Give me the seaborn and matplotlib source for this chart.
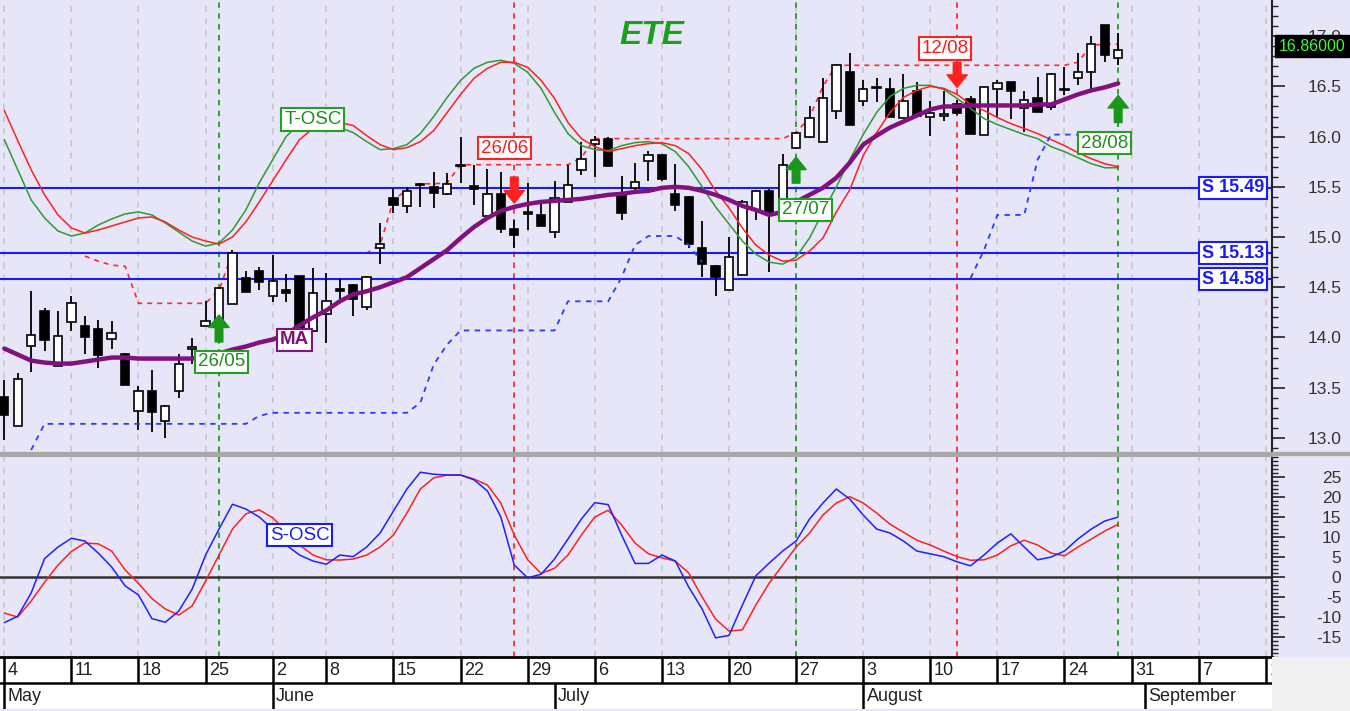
import numpy as np
import seaborn as sns
import matplotlib.pyplot as plt
from matplotlib.patches import Rectangle
from matplotlib.lines import Line2D
from matplotlib.ticker import MultipleLocator

# --- daily candles (trading days from 4 May to 28 Aug) ---
opens = [13.41, 13.12, 13.92, 14.26, 13.72, 14.15, 14.11, 14.08, 13.98, 13.84,
         13.27, 13.47, 13.17, 13.47, 13.89, 14.11, 14.14, 14.33, 14.59, 14.66,
         14.41, 14.47, 14.61, 14.06, 14.23, 14.48, 14.52, 14.30, 14.89, 15.39,
         15.31, 15.52, 15.50, 15.43, 15.71, 15.51, 15.21, 15.43, 15.08, 15.25,
         15.22, 15.05, 15.35, 15.67, 15.93, 15.98, 15.44, 15.49, 15.76, 15.82,
         15.43, 15.40, 14.89, 14.71, 14.47, 14.62, 15.27, 15.46, 15.33, 15.89,
         16.00, 15.95, 16.25, 16.64, 16.35, 16.48, 16.47, 16.19, 16.45, 16.20,
         16.21, 16.32, 16.37, 16.02, 16.47, 16.54, 16.28, 16.38, 16.29, 16.46,
         16.58, 16.64, 17.11, 16.78]
highs = [13.58, 13.65, 14.46, 14.29, 14.26, 14.41, 14.21, 14.17, 14.16, 13.85,
         13.52, 13.68, 13.33, 13.84, 13.99, 14.36, 14.50, 14.87, 14.66, 14.70,
         14.82, 14.63, 14.61, 14.69, 14.64, 14.58, 14.53, 14.61, 15.14, 15.49,
         15.50, 15.54, 15.65, 15.64, 16.00, 15.72, 15.68, 15.65, 15.17, 15.54,
         15.37, 15.56, 15.72, 15.95, 16.01, 16.00, 15.61, 15.74, 15.86, 15.83,
         15.73, 15.41, 15.16, 14.72, 15.00, 15.37, 15.47, 15.48, 15.83, 16.05,
         16.30, 16.58, 16.72, 16.83, 16.56, 16.58, 16.58, 16.62, 16.54, 16.35,
         16.45, 16.36, 16.40, 16.49, 16.56, 16.54, 16.45, 16.59, 16.63, 16.69,
         16.83, 17.00, 17.11, 17.03]
lows = [12.98, 13.12, 13.66, 13.87, 13.72, 14.06, 13.84, 13.70, 13.89, 13.53,
        13.08, 13.06, 13.00, 13.40, 13.74, 14.11, 14.14, 14.33, 14.45, 14.47,
        14.35, 14.35, 14.08, 14.05, 13.95, 14.35, 14.21, 14.27, 14.73, 15.24,
        15.24, 15.30, 15.29, 15.42, 15.54, 15.32, 15.21, 15.04, 14.89, 15.07,
        15.11, 14.99, 15.35, 15.62, 15.60, 15.71, 15.17, 15.43, 15.56, 15.56,
        15.26, 14.89, 14.60, 14.41, 14.47, 14.62, 15.17, 14.65, 15.25, 15.88,
        15.99, 15.95, 16.18, 16.12, 16.30, 16.34, 16.20, 16.19, 16.21, 16.01,
        16.16, 16.22, 16.03, 16.02, 16.20, 16.18, 16.05, 16.24, 16.26, 16.41,
        16.51, 16.45, 16.74, 16.71]
closes = [13.23, 13.59, 14.02, 13.97, 14.01, 14.34, 14.00, 13.83, 14.04, 13.53,
          13.47, 13.26, 13.32, 13.74, 13.90, 14.16, 14.49, 14.84, 14.45, 14.55,
          14.56, 14.44, 14.09, 14.44, 14.36, 14.46, 14.38, 14.60, 14.93, 15.32,
          15.46, 15.53, 15.44, 15.53, 15.72, 15.48, 15.43, 15.08, 15.02, 15.23,
          15.11, 15.39, 15.52, 15.78, 15.97, 15.71, 15.24, 15.55, 15.82, 15.58,
          15.32, 14.93, 14.73, 14.60, 14.80, 15.35, 15.46, 15.23, 15.72, 16.04,
          16.19, 16.38, 16.71, 16.12, 16.47, 16.49, 16.20, 16.35, 16.21, 16.23,
          16.22, 16.23, 16.03, 16.49, 16.53, 16.45, 16.36, 16.24, 16.62, 16.47,
          16.64, 16.92, 16.81, 16.86]

# moving average (purple)
ma = [13.89, 13.83, 13.77, 13.75, 13.74, 13.74, 13.76, 13.78, 13.80, 13.80,
      13.79, 13.79, 13.79, 13.79, 13.79, 13.82, 13.84, 13.88, 13.91, 13.95,
      13.98, 14.03, 14.12, 14.20, 14.27, 14.36, 14.43, 14.46, 14.50, 14.55,
      14.60, 14.69, 14.78, 14.87, 14.99, 15.10, 15.19, 15.26, 15.30, 15.33,
      15.35, 15.36, 15.37, 15.38, 15.40, 15.42, 15.43, 15.45, 15.46, 15.49,
      15.50, 15.49, 15.46, 15.42, 15.37, 15.31, 15.27, 15.22, 15.25, 15.35,
      15.42, 15.49, 15.59, 15.74, 15.92, 16.01, 16.09, 16.15, 16.21, 16.27,
      16.30, 16.30, 16.31, 16.31, 16.31, 16.31, 16.31, 16.32, 16.32, 16.37,
      16.42, 16.46, 16.49, 16.53]

# T-OSC pair drawn on the price panel
tosc_green = [15.97, 15.67, 15.37, 15.19, 15.06, 15.01, 15.04, 15.12, 15.18, 15.23,
              15.25, 15.22, 15.14, 15.05, 14.96, 14.91, 14.94, 15.07, 15.27, 15.54,
              15.77, 16.00, 16.13, 16.16, 16.14, 16.09, 16.04, 15.95, 15.87, 15.88,
              15.92, 16.03, 16.20, 16.39, 16.56, 16.68, 16.74, 16.76, 16.73, 16.64,
              16.48, 16.24, 16.03, 15.91, 15.87, 15.86, 15.91, 15.94, 15.95, 15.93,
              15.85, 15.70, 15.50, 15.30, 15.13, 14.96, 14.83, 14.75, 14.73, 14.80,
              14.99, 15.25, 15.50, 15.77, 16.02, 16.24, 16.40, 16.48, 16.51, 16.51,
              16.47, 16.38, 16.28, 16.18, 16.12, 16.07, 16.02, 15.98, 15.90, 15.85,
              15.79, 15.73, 15.69, 15.69]
tosc_red = [16.26, 15.96, 15.67, 15.42, 15.22, 15.09, 15.04, 15.07, 15.11, 15.15,
            15.19, 15.20, 15.15, 15.07, 15.00, 14.96, 14.93, 15.00, 15.15, 15.35,
            15.56, 15.77, 15.97, 16.08, 16.14, 16.14, 16.11, 16.01, 15.92, 15.87,
            15.89, 15.95, 16.06, 16.24, 16.42, 16.58, 16.68, 16.74, 16.74, 16.69,
            16.56, 16.38, 16.14, 15.98, 15.90, 15.85, 15.88, 15.91, 15.93, 15.94,
            15.91, 15.83, 15.67, 15.46, 15.29, 15.09, 14.92, 14.82, 14.76, 14.77,
            14.86, 14.99, 15.25, 15.47, 15.81, 16.04, 16.24, 16.39, 16.46, 16.50,
            16.48, 16.42, 16.32, 16.26, 16.19, 16.13, 16.08, 16.03, 15.97, 15.91,
            15.84, 15.78, 15.73, 15.70]

# trailing lines (None = not drawn)
resist = [None, None, None, None, None, None, 14.81, 14.76, 14.72, 14.71,
          14.34, 14.34, 14.34, 14.34, 14.34, 14.34, 14.47, 14.84, 14.84, 14.84,
          14.84, 14.84, 14.84, 14.84, 14.84, 14.84, 14.84, 14.84, 14.92, 15.37,
          15.47, 15.53, 15.53, 15.54, 15.72, 15.72, 15.72, 15.72, 15.72, 15.72,
          15.72, 15.72, 15.72, 15.79, 15.98, 15.98, 15.98, 15.98, 15.98, 15.98,
          15.98, 15.98, 15.98, 15.98, 15.98, 15.98, 15.98, 15.98, 15.98, 16.04,
          16.19, 16.50, 16.71, 16.71, 16.71, 16.71, 16.71, 16.71, 16.71, 16.71,
          16.71, 16.71, 16.71, 16.71, 16.71, 16.71, 16.71, 16.71, 16.71, 16.71,
          16.74, 16.91, 16.92, 16.92]
support = [None, None, 12.88, 13.14, 13.14, 13.14, 13.14, 13.14, 13.14, 13.14,
           13.14, 13.14, 13.14, 13.14, 13.14, 13.14, 13.14, 13.14, 13.14, 13.22,
           13.25, 13.25, 13.25, 13.25, 13.25, 13.25, 13.25, 13.25, 13.25, 13.25,
           13.25, 13.35, 13.73, 13.93, 14.07, 14.07, 14.07, 14.07, 14.07, 14.07,
           14.07, 14.07, 14.36, 14.36, 14.36, 14.36, 14.60, 14.92, 15.01, 15.01,
           15.01, 14.92, 14.75, None, None, None, None, None, None, None,
           None, None, None, None, None, None, None, None, None, None,
           None, None, 14.59, 14.87, 15.22, 15.22, 15.22, 15.77, 16.02, 16.02,
           16.02, None, None, None]

# S-OSC (lower panel)
sosc_blue = [-11.4, -9.8, -4.0, 4.6, 7.5, 9.7, 9.0, 6.0, 2.5, -2.2,
             -4.5, -10.4, -11.3, -8.5, -3.0, 5.5, 12.0, 18.2, 17.0, 15.0,
             12.0, 8.0, 5.5, 4.0, 3.2, 5.5, 5.1, 7.5, 11.0, 16.5,
             22.0, 26.2, 25.7, 25.5, 25.5, 24.3, 21.5, 15.0, 3.0, -0.2,
             0.7, 4.5, 9.5, 14.5, 18.6, 18.1, 10.5, 3.4, 3.4, 5.5,
             4.0, -2.5, -8.0, -15.2, -14.6, -7.0, 0.3, 3.5, 6.5, 9.0,
             14.5, 18.5, 22.0, 19.5, 15.5, 12.0, 11.0, 9.0, 6.5, 5.8,
             5.1, 3.8, 2.8, 5.5, 8.5, 10.8, 7.5, 4.3, 5.0, 6.5,
             9.5, 12.0, 14.0, 15.0]
sosc_red = [-9.0, -10.0, -6.0, -1.3, 3.0, 6.4, 8.5, 8.3, 6.5, 1.8,
            -1.6, -5.4, -8.0, -9.5, -7.2, -1.0, 5.5, 12.0, 15.8, 16.8,
            14.8, 11.5, 8.0, 5.5, 4.3, 4.25, 4.5, 5.5, 7.5, 10.5,
            16.0, 22.0, 24.8, 25.5, 25.5, 24.5, 23.0, 18.5, 10.5, 4.3,
            0.9, 2.2, 5.5, 10.5, 15.0, 16.7, 13.0, 8.5, 5.8, 4.8,
            4.0, 1.0, -5.0, -10.5, -13.5, -13.2, -7.0, -1.5, 3.0, 7.5,
            11.0, 15.5, 18.5, 20.1, 18.5, 16.0, 13.2, 11.2, 9.2, 8.0,
            6.5, 5.1, 4.2, 4.3, 5.5, 7.8, 9.2, 8.0, 6.0, 5.3,
            7.5, 9.5, 11.5, 13.2]

# support levels (line level, label text)
levels = [15.49, 14.84, 14.58]
level_text = ['S 15.49', 'S 15.13', 'S 14.58']
last_price = 16.86

# signals
sig_idx = [16, 38, 59, 71, 83]
sig_buy = [True, False, True, False, True]
sig_text = ['26/05', '26/06', '27/07', '12/08', '28/08']
sig_lab_x = [16.2, 37.3, 59.7, 70.1, 82.0]
sig_lab_y = [13.756, 15.886, 15.27, 16.88, 15.935]
arrow_tip = [14.224, 15.338, 15.796, 16.49, 16.41]
arrow_tail = [13.955, 15.597, 15.537, 16.74, 16.14]

# date axis
tick_idx = [0, 5, 10, 15, 20, 24, 29, 34, 39, 44, 49, 54, 59, 64, 69, 74, 79, 84, 89, 94]
day_labels = ['4', '11', '18', '25', '2', '8', '15', '22', '29', '6', '13', '20',
              '27', '3', '10', '17', '24', '31', '7', '14']
month_idx = [0, 20, 41, 64, 85]
month_names = ['May', 'June', 'July', 'August', 'September']

BG = '#E6E6F8'
sns.set_style("white", {"axes.facecolor": BG})
plt.rcParams['font.family'] = ['Liberation Sans', 'DejaVu Sans']
plt.rcParams['axes.unicode_minus'] = False

idx = np.arange(len(closes))
o, h, l, c = map(np.array, (opens, highs, lows, closes))
XMIN, XMAX = -0.32, 94.46

fig = plt.figure(figsize=(13.5, 7.11), dpi=100, facecolor=BG)
ax1 = fig.add_axes([0, 0.3643, 0.9422, 0.6357])
ax2 = fig.add_axes([0, 0.0759, 0.9422, 0.2827])
ax3 = fig.add_axes([0, 0.0028, 0.9422, 0.0731])
fig.add_artist(Rectangle((0.9422, 0), 0.0578, 0.0759, transform=fig.transFigure,
                         facecolor='#F0F0F0', edgecolor='none'))
fig.add_artist(Line2D([0, 1], [0.3615, 0.3615], transform=fig.transFigure,
                      color='#A8A8A8', lw=3))

for ax in (ax1, ax2):
    ax.set_xlim(XMIN, XMAX)
    ax.set_xticks([])
    for t in tick_idx:
        ax.axvline(t, color='#C4C4C4', ls=(0, (4, 4)), lw=1.1, zorder=0.5)
    for i, b in zip(sig_idx, sig_buy):
        ax.axvline(i, color='#1E9E1E' if b else '#FF2A2A', ls=(0, (3, 3)), lw=1.3, zorder=1.2)
    for s in ('left', 'top'):
        ax.spines[s].set_visible(False)
    ax.spines['right'].set_color('#222222')
    ax.spines['right'].set_linewidth(1.5)
    ax.spines['bottom'].set_color('#A8A8A8')
    ax.yaxis.tick_right()
    ax.tick_params(axis='y', which='major', direction='out', length=9, width=1.2,
                   color='#222222', labelsize=12.5, labelcolor='#333333', pad=41)
    ax.tick_params(axis='y', which='minor', direction='out', length=4.5, width=1.0,
                   color='#222222')

# --- price panel ---
ax1.set_ylim(12.86, 17.36)
ax1.plot(idx, np.array(resist, dtype=float), color='#FF2A2A', ls=(0, (3, 3)), lw=1.2, zorder=1.4)
for lv in levels:
    ax1.axhline(lv, color='#1A1AFF', lw=1.5, zorder=1.5)

ax1.vlines(idx, l, h, color='black', lw=1.3, zorder=3)
body_lo = np.minimum(o, c)
body_h = np.maximum(np.abs(c - o), 0.012)
ax1.bar(idx, body_h, bottom=body_lo, width=0.62,
        color=np.where(c >= o, 'white', 'black'), edgecolor='black', linewidth=1.2, zorder=4)

sns.lineplot(x=idx, y=tosc_green, ax=ax1, color='#2E9A2E', linewidth=1.1, zorder=5, legend=False)
sns.lineplot(x=idx, y=tosc_red, ax=ax1, color='#FF2020', linewidth=1.1, zorder=5, legend=False)
ax1.plot(idx, np.array(support, dtype=float), color='#2A3AFF', ls=(0, (3, 3)), lw=1.3, zorder=5)
sns.lineplot(x=idx, y=ma, ax=ax1, color='#80117F', linewidth=3.2, zorder=6, legend=False)

yt = np.arange(13.0, 17.01, 0.5)
ax1.set_yticks(yt)
ax1.set_yticklabels([f'{v:.1f}' for v in yt], ha='right')
ax1.yaxis.set_minor_locator(MultipleLocator(0.1))

for i, b, tip, tail in zip(sig_idx, sig_buy, arrow_tip, arrow_tail):
    col = '#1A961A' if b else '#FF2020'
    ax1.annotate('', xy=(i, tip), xytext=(i, tail),
                 arrowprops=dict(arrowstyle='simple,head_length=0.9,head_width=1.45,tail_width=0.55',
                                 fc=col, ec=col, shrinkA=0, shrinkB=0), zorder=7)

for txt, x, y, b in zip(sig_text, sig_lab_x, sig_lab_y, sig_buy):
    tc = '#1E8C1E' if b else '#FF1A1A'
    ec = '#22A022' if b else '#FF2020'
    ax1.text(x, y, txt, ha='center', va='center', fontsize=13.5, color=tc, zorder=8,
             bbox=dict(boxstyle='square,pad=0.15', fc='white', ec=ec, lw=1.5))

ax1.text(23.0, 16.17, 'T-OSC', ha='center', va='center', fontsize=13.5, color='#1E8C1E', zorder=8,
         bbox=dict(boxstyle='square,pad=0.15', fc='white', ec='#22A022', lw=1.5))
ax1.text(21.6, 13.975, 'MA', ha='center', va='center', fontsize=13.5, fontweight='bold',
         color='#80117F', zorder=8,
         bbox=dict(boxstyle='square,pad=0.15', fc='white', ec='#80117F', lw=1.5))
ax1.text(0.5126, 0.922, 'ETE', transform=ax1.transAxes, ha='center', va='center',
         fontsize=24, fontweight='bold', fontstyle='italic', color='#1E9E1E', zorder=8)

for lv, txt in zip(levels, level_text):
    ax1.text(0.994, lv, txt, transform=ax1.get_yaxis_transform(), ha='right', va='center',
             fontsize=13, fontweight='bold', color='#1A1AFF', zorder=8,
             bbox=dict(boxstyle='square,pad=0.15', fc='white', ec='#1A1AFF', lw=1.5))

ax1.annotate(f'{last_price:.5f}', xy=(1.005, last_price), xycoords=ax1.get_yaxis_transform(),
             xytext=(0, 3), textcoords='offset points', ha='left', va='center',
             fontsize=11.5, color='#33FF33', zorder=10, annotation_clip=False,
             bbox=dict(boxstyle='square,pad=0.22', fc='black', ec='black'))

# --- oscillator panel ---
ax2.set_ylim(-20, 30.25)
ax2.spines['top'].set_visible(True)
ax2.spines['top'].set_color('#A8A8A8')
ax2.spines['bottom'].set_visible(False)
ax2.axhline(0, color='#333333', lw=1.8, zorder=1.5)
sns.lineplot(x=idx, y=sosc_red, ax=ax2, color='#FF2020', linewidth=1.1, zorder=4, legend=False)
sns.lineplot(x=idx, y=sosc_blue, ax=ax2, color='#2020FF', linewidth=1.1, zorder=5, legend=False)
yt2 = np.arange(-15, 26, 5)
ax2.set_yticks(yt2)
ax2.set_yticklabels([str(v) for v in yt2], ha='right')
ax2.yaxis.set_minor_locator(MultipleLocator(1))
ax2.text(22.0, 10.5, 'S-OSC', ha='center', va='center', fontsize=13.5, color='#1A1AFF', zorder=8,
         bbox=dict(boxstyle='square,pad=0.15', fc='white', ec='#1A1AFF', lw=1.5))

# --- date strip ---
ax3.set_facecolor('white')
ax3.set_xlim(XMIN, XMAX)
ax3.set_ylim(0, 1)
ax3.set_xticks([])
ax3.set_yticks([])
for s in ('left', 'right', 'bottom'):
    ax3.spines[s].set_visible(False)
ax3.spines['top'].set_color('black')
ax3.spines['top'].set_linewidth(2)
ax3.axhline(0.5, color='black', lw=1.8)
ax3.vlines(tick_idx, 0.5, 1, color='black', lw=1.8)
ax3.vlines(month_idx, 0, 0.5, color='black', lw=1.8)
for t, lab in zip(tick_idx, day_labels):
    ax3.text(t + 0.25, 0.74, lab, ha='left', va='center', fontsize=13, color='#222222', clip_on=True)
for m, name in zip(month_idx, month_names):
    ax3.text(m + 0.25, 0.25, name, ha='left', va='center', fontsize=13, color='#222222', clip_on=True)

fig.savefig('out.png', dpi=100, facecolor=BG)
